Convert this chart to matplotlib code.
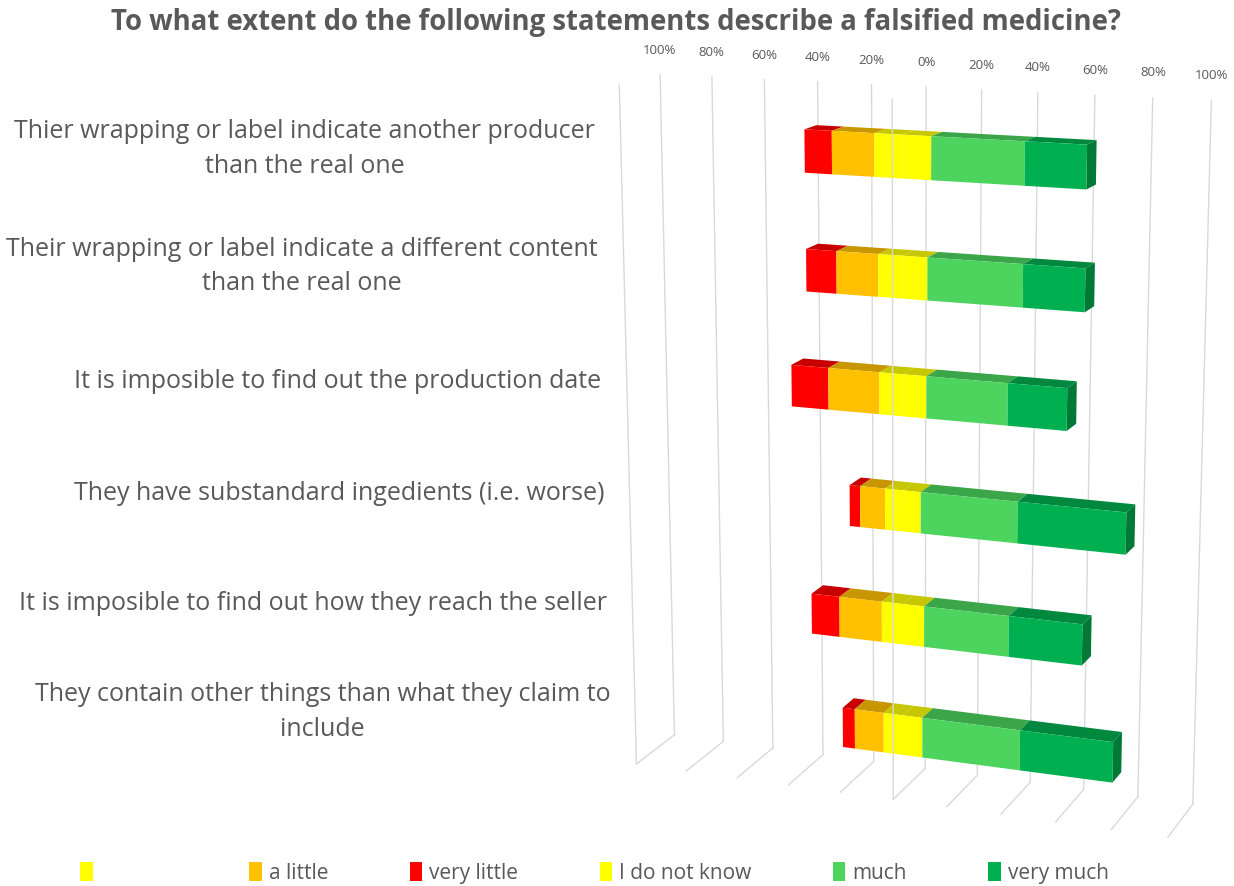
import numpy as np
import matplotlib.pyplot as plt
from matplotlib.patches import Patch
from matplotlib.colors import to_rgb
from mpl_toolkits.mplot3d import proj3d
from mpl_toolkits.mplot3d.art3d import Poly3DCollection

plt.rcParams['font.family'] = ['Open Sans', 'DejaVu Sans']

title = 'To what extent do the following statements describe a falsified medicine?'
statements = [
    'Thier wrapping or label indicate another producer\nthan the real one',
    'Their wrapping or label indicate a different content\nthan the real one',
    'It is imposible to find out the production date',
    'They have substandard ingedients (i.e. worse)',
    'It is imposible to find out how they reach the seller',
    'They contain other things than what they claim to\ninclude',
]

# answer shares in %, one value per statement (top to bottom)
blank = [10.2, 8.9, 8.6, 6.6, 7.9, 7.3]          # left half of the neutral answer
a_little = [15.4, 15.3, 18.9, 9.3, 16.0, 11.0]
very_little = [10.0, 11.2, 13.8, 3.9, 10.6, 4.6]
dont_know = [10.2, 8.9, 8.6, 6.6, 7.9, 7.3]
much = [32.9, 34.0, 29.3, 35.2, 31.1, 36.2]
very_much = [21.4, 21.7, 21.0, 38.5, 26.5, 33.7]

series_names = ['', 'a little', 'very little', 'I do not know', 'much', 'very much']
series_colors = ['#FFFF00', '#FFC000', '#FF0000', '#FFFF00', '#4CD45E', '#00B050']

ticks = [-100, -80, -60, -40, -20, 0, 20, 40, 60, 80, 100]
tick_labels = ['100%', '80%', '60%', '40%', '20%', '0%', '20%', '40%', '60%', '80%', '100%']

grid_col = '#D9D9D9'
text_col = '#595959'

fig = plt.figure(figsize=(12.34, 8.86), dpi=100)
ax = fig.add_axes([0.3683, -0.0203, 0.718, 1.0], projection='3d', computed_zorder=False)
ax.set_proj_type('persp', focal_length=0.6)
ax.view_init(elev=14.5, azim=-69.5)
ax.set_xlim(-100, 100, view_margin=0)
ax.set_ylim(0, 1, view_margin=0)
ax.set_zlim(0, 6, view_margin=0)
ax.set_box_aspect((583, 95, 720), zoom=1.01)
ax.set_axis_off()
ax.patch.set_alpha(0)

M = ax.get_proj()


def flat(x, y, z):
    xs, ys, _ = proj3d.proj_transform(x, y, z, M)
    return float(xs), float(ys)


# walls: value gridlines on the back wall and the floor
for v in ticks:
    ax.plot([v, v], [1, 1], [0, 6], color=grid_col, lw=1.0, zorder=1)
    ax.plot([v, v], [0, 1], [0, 0], color=grid_col, lw=1.0, zorder=1)
for v, lab in zip(ticks, tick_labels):
    ax.text2D(*flat(v, 1, 6.15), lab, ha='center', va='bottom', fontsize=9.5,
              color=text_col)


def shade(c, k):
    r, g, b = to_rgb(c)
    return (r * k, g * k, b * k)


n = len(statements)
bar_h = 0.36
y0, y1 = 0.30, 0.63
for i in range(n):
    zc = n - 0.5 - i
    z0, z1 = zc - bar_h / 2, zc + bar_h / 2
    neg = [blank[i], a_little[i], very_little[i]]
    pos = [dont_know[i], much[i], very_much[i]]
    segs = []
    left = 0.0
    for val, c in zip(neg, series_colors[:3]):
        segs.append((left - val, left, c))
        left -= val
    right = 0.0
    for val, c in zip(pos, series_colors[3:]):
        segs.append((right, right + val, c))
        right += val
    faces, cols = [], []
    for xa, xb, c in segs:
        faces.append([(xa, y0, z0), (xb, y0, z0), (xb, y0, z1), (xa, y0, z1)])
        cols.append(c)
        faces.append([(xa, y0, z1), (xb, y0, z1), (xb, y1, z1), (xa, y1, z1)])
        cols.append(shade(c, 0.78))
    faces.append([(right, y0, z0), (right, y1, z0), (right, y1, z1), (right, y0, z1)])
    cols.append(shade(series_colors[-1], 0.68))
    ax.add_collection3d(Poly3DCollection(faces, facecolors=cols, edgecolors='none',
                                         zorder=2))
    ax.text2D(*flat(-110, 0, zc - 0.045), statements[i], ha='right', va='center',
              multialignment='center', linespacing=1.5, fontsize=18, color=text_col)

# category axis lines in front
for v in [-100, 0]:
    ax.plot([v, v], [0, 0], [0, 6], color=grid_col, lw=1.0, zorder=3)

fig.text(0.4992, 0.975, title, ha='center', va='center', fontsize=19.8,
         fontweight='bold', color=text_col)

handles = [Patch(facecolor=c, edgecolor='none') for c in series_colors]
leg_kw = dict(frameon=False, fontsize=15, labelcolor=text_col, handlelength=0.6,
              handleheight=1.0, handletextpad=0.35, borderpad=0, borderaxespad=0)
fig.legend(handles[:1], series_names[:1], loc='center left',
           bbox_to_anchor=(80 / 1234, 0.0147), **leg_kw)
fig.legend(handles[1:], series_names[1:], loc='center left', ncol=5,
           bbox_to_anchor=(249 / 1234, 0.0147), columnspacing=3.9, **leg_kw)

fig.savefig('out.png', dpi=100)
